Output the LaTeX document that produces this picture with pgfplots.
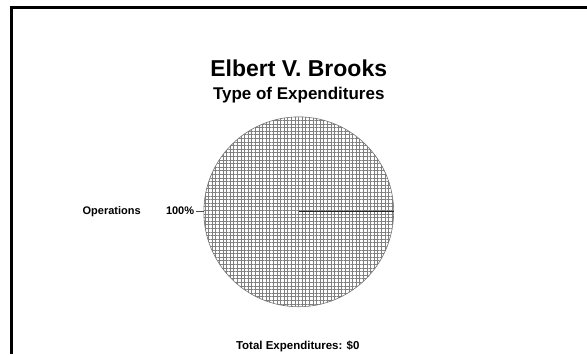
\documentclass[border=0pt]{standalone}
\usepackage{pgfplots}
\pgfplotsset{compat=1.18}
\usepackage{pgfplotstable}
\usepackage{fontspec}
\setmainfont{Liberation Sans}
\usetikzlibrary{patterns.meta}

% Share of each expenditure type, in percent
\pgfplotstableread{
category share
Operations 100
}\expenditures

\begin{document}
\begin{tikzpicture}
\pgfplotstablegetelem{0}{share}\of\expenditures
\pgfmathsetmacro{\sweep}{3.6*\pgfplotsretval}
\pgfmathsetmacro{\shareval}{\pgfplotsretval}
\begin{axis}[
  width=587pt, height=353pt, scale only axis,
  xmin=0, xmax=587, ymin=0, ymax=353,
  y dir=reverse,
  axis lines=none, ticks=none,
  clip=false,
]
  \path (axis cs:0,0) rectangle (axis cs:587,353);
  % frame
  \draw[line width=3pt, line cap=rect] (axis cs:12,353) -- (axis cs:12,8) -- (axis cs:586,8);
  % titles
  \node[anchor=base, font=\fontsize{23}{26}\selectfont\bfseries] at (axis cs:299,77) {Elbert V. Brooks};
  \node[anchor=base, font=\fontsize{17}{20}\selectfont\bfseries] at (axis cs:299,100) {Type of Expenditures};
  % pie slice
  \fill[pattern={Hatch[distance=3.6pt, angle=0, line width=0.65pt]}, pattern color=black!50]
    (axis cs:299,212) -- (axis cs:394,212) arc[start angle=0, end angle=\sweep, radius=95] -- cycle;
  \draw[black!55, line width=0.6pt] (axis cs:299,212) circle[radius=95];
  \draw[black!85, line width=0.9pt] (axis cs:299,211.5) -- (axis cs:394,211.5);
  % slice label
  \draw[black!70, line width=0.6pt] (axis cs:196,211.5) -- (axis cs:204,211.5);
  \node[anchor=base east, inner sep=0pt, font=\fontsize{11}{13}\selectfont\bfseries] at (axis cs:194.5,214.5) {\pgfmathprintnumber[fixed,precision=0,assume math mode=true]{\shareval}\%};
  \node[anchor=base west, inner sep=0pt, font=\fontsize{11}{13}\selectfont\bfseries] at (axis cs:82.5,214.5) {Operations};
  % total
  \node[anchor=base, inner sep=0pt, font=\fontsize{11.5}{13}\selectfont\bfseries] at (axis cs:298,349.5) {Total Expenditures: \$0};
\end{axis}
\end{tikzpicture}
\end{document}
